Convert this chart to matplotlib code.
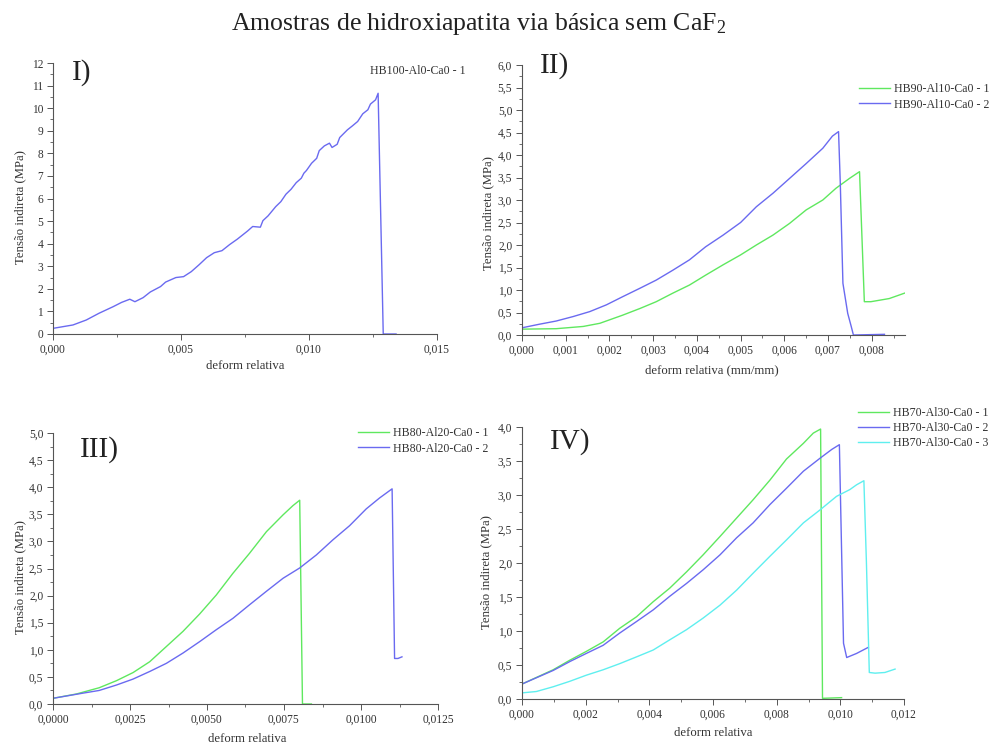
import matplotlib
matplotlib.use("Agg")
import matplotlib.pyplot as plt
from matplotlib.ticker import MultipleLocator, FuncFormatter

plt.rcParams['font.family'] = ['Liberation Serif', 'DejaVu Serif']
plt.rcParams['mathtext.fontset'] = 'custom'
plt.rcParams['mathtext.rm'] = 'Liberation Serif'
plt.rcParams['mathtext.it'] = 'Liberation Serif:italic'
plt.rcParams['mathtext.bf'] = 'Liberation Serif:bold'

# ---------------- data ----------------
# Panel I
p1_label = "HB100-Al0-Ca0 - 1"
p1_x = [0.0, 0.00078, 0.0013, 0.0018, 0.00235, 0.00268, 0.0030, 0.0032, 0.00352, 0.0038,
        0.0042, 0.0044, 0.0048, 0.0051, 0.0054, 0.0057, 0.0060, 0.0063, 0.0066, 0.0069,
        0.0072, 0.0076, 0.0078, 0.0081, 0.0082, 0.0084, 0.0087, 0.0089, 0.0091, 0.0093,
        0.0095, 0.0097, 0.0098, 0.0099, 0.0101, 0.0103, 0.0104, 0.0106, 0.0108, 0.0109,
        0.0111, 0.0112, 0.0115, 0.0117, 0.0119, 0.0121, 0.0123, 0.0124, 0.0126, 0.0127,
        0.0129, 0.0134]
p1_y = [0.25, 0.40, 0.62, 0.92, 1.21, 1.40, 1.54, 1.43, 1.61, 1.86,
        2.10, 2.30, 2.50, 2.54, 2.76, 3.06, 3.38, 3.60, 3.69, 3.96,
        4.20, 4.56, 4.76, 4.73, 5.02, 5.23, 5.64, 5.86, 6.19, 6.41,
        6.70, 6.90, 7.12, 7.24, 7.56, 7.78, 8.12, 8.33, 8.45, 8.26,
        8.40, 8.70, 9.04, 9.22, 9.41, 9.75, 9.93, 10.18, 10.37, 10.66,
        0.0, 0.0]

# Panel II
p2_labels = ["HB90-Al10-Ca0 - 1", "HB90-Al10-Ca0 - 2"]
p2_x1 = [0.0, 0.00078, 0.0014, 0.00178, 0.0023, 0.0027, 0.00307, 0.00345, 0.00383, 0.0042,
         0.0046, 0.0050, 0.00536, 0.00574, 0.00612, 0.0065, 0.00688, 0.00718, 0.00749, 0.00772,
         0.00783, 0.00798, 0.0084, 0.00875]
p2_y1 = [0.13, 0.14, 0.19, 0.26, 0.44, 0.59, 0.74, 0.93, 1.11, 1.33,
         1.56, 1.78, 2.00, 2.22, 2.48, 2.78, 3.00, 3.26, 3.48, 3.63,
         0.74, 0.74, 0.81, 0.93]
p2_x2 = [0.0, 0.0004, 0.00078, 0.00117, 0.00155, 0.00193, 0.0023, 0.0027, 0.00307, 0.00345,
         0.00383, 0.0042, 0.0046, 0.0050, 0.00536, 0.00574, 0.00612, 0.0065, 0.00688, 0.0071,
         0.00724, 0.00728, 0.00734, 0.00745, 0.00753, 0.00758, 0.00829]
p2_y2 = [0.16, 0.24, 0.31, 0.41, 0.52, 0.67, 0.85, 1.04, 1.22, 1.44,
         1.67, 1.96, 2.22, 2.50, 2.85, 3.15, 3.48, 3.81, 4.15, 4.42,
         4.52, 3.37, 1.15, 0.48, 0.19, 0.0, 0.015]

# Panel III
p3_labels = ["HB80-Al20-Ca0 - 1", "HB80-Al20-Ca0 - 2"]
p3_x1 = [0.0, 0.00076, 0.0015, 0.00206, 0.0026, 0.00314, 0.00368, 0.00422, 0.00476, 0.0053,
         0.00584, 0.00638, 0.00693, 0.00747, 0.00779, 0.00801, 0.0081, 0.00839]
p3_y1 = [0.105, 0.185, 0.30, 0.43, 0.58, 0.78, 1.06, 1.34, 1.66, 2.01,
         2.41, 2.78, 3.18, 3.49, 3.66, 3.76, 0.0, 0.0]
p3_x2 = [0.0, 0.00097, 0.0015, 0.00206, 0.0026, 0.00314, 0.00368, 0.00422, 0.00476, 0.0053,
         0.00584, 0.00638, 0.00693, 0.00747, 0.00801, 0.00855, 0.00909, 0.00963, 0.01017, 0.0106,
         0.01101, 0.01109, 0.0112, 0.01133]
p3_y2 = [0.105, 0.20, 0.25, 0.35, 0.46, 0.60, 0.75, 0.94, 1.15, 1.37,
         1.58, 1.83, 2.08, 2.32, 2.51, 2.75, 3.03, 3.29, 3.60, 3.80,
         3.97, 0.84, 0.84, 0.87]

# Panel IV
p4_labels = ["HB70-Al30-Ca0 - 1", "HB70-Al30-Ca0 - 2", "HB70-Al30-Ca0 - 3"]
p4_x1 = [0.0, 0.00098, 0.0015, 0.00202, 0.00255, 0.00307, 0.0036, 0.00412, 0.00464, 0.00517,
         0.00569, 0.00622, 0.00674, 0.00726, 0.00779, 0.00831, 0.00884, 0.00915, 0.00938, 0.00944,
         0.01004]
p4_y1 = [0.22, 0.43, 0.57, 0.70, 0.84, 1.04, 1.21, 1.43, 1.63, 1.87,
         2.12, 2.39, 2.66, 2.93, 3.22, 3.53, 3.76, 3.91, 3.97, 0.01,
         0.02]
p4_x2 = [0.0, 0.00098, 0.0015, 0.00202, 0.00255, 0.00307, 0.0036, 0.00412, 0.00464, 0.00517,
         0.00569, 0.00622, 0.00674, 0.00726, 0.00779, 0.00831, 0.00884, 0.00936, 0.00973, 0.00997,
         0.0101, 0.0102, 0.01051, 0.01088]
p4_y2 = [0.22, 0.42, 0.55, 0.67, 0.79, 0.97, 1.14, 1.31, 1.51, 1.70,
         1.90, 2.12, 2.37, 2.59, 2.86, 3.10, 3.35, 3.54, 3.67, 3.74,
         0.82, 0.61, 0.67, 0.76]
p4_x3 = [0.0, 0.00045, 0.00098, 0.0015, 0.00202, 0.00255, 0.00307, 0.0036, 0.00412, 0.00464,
         0.00517, 0.00569, 0.00622, 0.00674, 0.00726, 0.00779, 0.00831, 0.00884, 0.00936, 0.00988,
         0.0103, 0.01051, 0.01074, 0.01082, 0.01091, 0.01109, 0.0114, 0.01172]
p4_y3 = [0.09, 0.11, 0.18, 0.26, 0.35, 0.43, 0.52, 0.62, 0.72, 0.87,
         1.02, 1.19, 1.38, 1.60, 1.85, 2.10, 2.34, 2.59, 2.78, 2.98,
         3.08, 3.15, 3.21, 2.00, 0.39, 0.38, 0.39, 0.44]

title = "Amostras de hidroxiapatita via básica sem CaF$_2$"
ylabel = "Tensão indireta (MPa)"
panel_tags = ["I)", "II)", "III)", "IV)"]

GREEN = "#5fe85f"
BLUE = "#6a6af0"
CYAN = "#5fefef"
TXT = "#333333"
AX = "#555555"

W, H = 993, 747
fig = plt.figure(figsize=(W / 100, H / 100), dpi=100)


def axes_px(l, r, t, b):
    return fig.add_axes([l / W, 1 - b / H, (r - l) / W, (b - t) / H])


def style(ax, xmaj, xmin, ymaj, ymin, xdec, ydec):
    for s in ["top", "right"]:
        ax.spines[s].set_visible(False)
    for s in ["left", "bottom"]:
        ax.spines[s].set_color(AX)
        ax.spines[s].set_linewidth(0.8)
    ax.xaxis.set_major_locator(MultipleLocator(xmaj))
    ax.xaxis.set_minor_locator(MultipleLocator(xmin))
    ax.yaxis.set_major_locator(MultipleLocator(ymaj))
    ax.yaxis.set_minor_locator(MultipleLocator(ymin))
    ax.xaxis.set_major_formatter(FuncFormatter(lambda v, p: f"{v:.{xdec}f}".replace(".", ",")))
    ax.yaxis.set_major_formatter(FuncFormatter(lambda v, p: f"{v:.{ydec}f}".replace(".", ",")))
    ax.tick_params(which="major", direction="out", length=4, width=0.7, color=AX,
                   labelsize=8.3, labelcolor=TXT, pad=3)
    ax.tick_params(which="minor", direction="out", length=2.2, width=0.6, color=AX)
    ax.set_facecolor("none")


LW = 1.0
LEGFS = 8.6
legkw = dict(frameon=False, fontsize=LEGFS, handlelength=2.6, handletextpad=0.35, borderpad=0,
             labelspacing=0.3, labelcolor=TXT, bbox_transform=fig.transFigure, loc="upper left")

# Panel I
ax1 = axes_px(53, 437, 63, 334)
ax1.plot(p1_x, p1_y, color=BLUE, lw=LW, label=p1_label)
ax1.set_xlim(0, 0.015)
ax1.set_ylim(0, 12)
style(ax1, 0.005, 0.0025, 1, 0.5, 3, 0)
kw1 = dict(legkw)
kw1.update(handlelength=0, handletextpad=0)
leg = ax1.legend(bbox_to_anchor=(364 / W, 1 - 59 / H), **kw1)
for h in leg.legend_handles:
    h.set_visible(False)

# Panel II
ax2 = axes_px(522, 905, 65, 335)
ax2.plot(p2_x1, p2_y1, color=GREEN, lw=LW, label=p2_labels[0])
ax2.plot(p2_x2, p2_y2, color=BLUE, lw=LW, label=p2_labels[1])
ax2.set_xlim(0, 0.00876)
ax2.set_ylim(0, 6.0)
style(ax2, 0.001, 0.0005, 0.5, 0.25, 3, 1)
ax2.legend(bbox_to_anchor=(853 / W, 1 - 77 / H), **legkw)

# Panel III
ax3 = axes_px(53, 438, 433, 704)
ax3.plot(p3_x1, p3_y1, color=GREEN, lw=LW, label=p3_labels[0])
ax3.plot(p3_x2, p3_y2, color=BLUE, lw=LW, label=p3_labels[1])
ax3.set_xlim(0, 0.0125)
ax3.set_ylim(0, 5.0)
style(ax3, 0.0025, 0.00125, 0.5, 0.25, 4, 1)
ax3.legend(bbox_to_anchor=(352 / W, 1 - 421 / H), **legkw)

# Panel IV
ax4 = axes_px(522, 904, 427, 699)
ax4.plot(p4_x1, p4_y1, color=GREEN, lw=LW, label=p4_labels[0])
ax4.plot(p4_x2, p4_y2, color=BLUE, lw=LW, label=p4_labels[1])
ax4.plot(p4_x3, p4_y3, color=CYAN, lw=LW, label=p4_labels[2])
ax4.set_xlim(0, 0.012)
ax4.set_ylim(0, 4.0)
style(ax4, 0.002, 0.001, 0.5, 0.25, 3, 1)
kw4 = dict(legkw)
kw4.update(labelspacing=0.25)
ax4.legend(bbox_to_anchor=(852 / W, 1 - 401 / H), **kw4)

# axis labels (figure positions)
LFS = 9.2
fig.text(245 / W, 1 - 366 / H, "deform relativa", ha="center", va="center", fontsize=LFS, color=TXT)
fig.text(712 / W, 1 - 370 / H, "deform relativa (mm/mm)", ha="center", va="center", fontsize=LFS, color=TXT)
fig.text(247 / W, 1 - 739 / H, "deform relativa", ha="center", va="center", fontsize=LFS, color=TXT)
fig.text(713 / W, 1 - 733 / H, "deform relativa", ha="center", va="center", fontsize=LFS, color=TXT)
fig.text(20 / W, 1 - 207 / H, ylabel, rotation=90, ha="center", va="center", fontsize=LFS, color=TXT)
fig.text(488 / W, 1 - 213 / H, ylabel, rotation=90, ha="center", va="center", fontsize=LFS, color=TXT)
fig.text(20 / W, 1 - 577 / H, ylabel, rotation=90, ha="center", va="center", fontsize=LFS, color=TXT)
fig.text(486 / W, 1 - 572 / H, ylabel, rotation=90, ha="center", va="center", fontsize=LFS, color=TXT)

# panel tags
fig.text(72 / W, 1 - 73 / H, panel_tags[0], ha="left", va="center", fontsize=21, color="#222222")
fig.text(540 / W, 1 - 66 / H, panel_tags[1], ha="left", va="center", fontsize=21, color="#222222")
fig.text(80 / W, 1 - 450 / H, panel_tags[2], ha="left", va="center", fontsize=21, color="#222222")
fig.text(550 / W, 1 - 442 / H, panel_tags[3], ha="left", va="center", fontsize=21, color="#222222")

fig.text(479 / W, 1 - 24 / H, title, ha="center", va="center", fontsize=18.5, color="#222222")

fig.savefig("out.png", dpi=100, facecolor="white")
